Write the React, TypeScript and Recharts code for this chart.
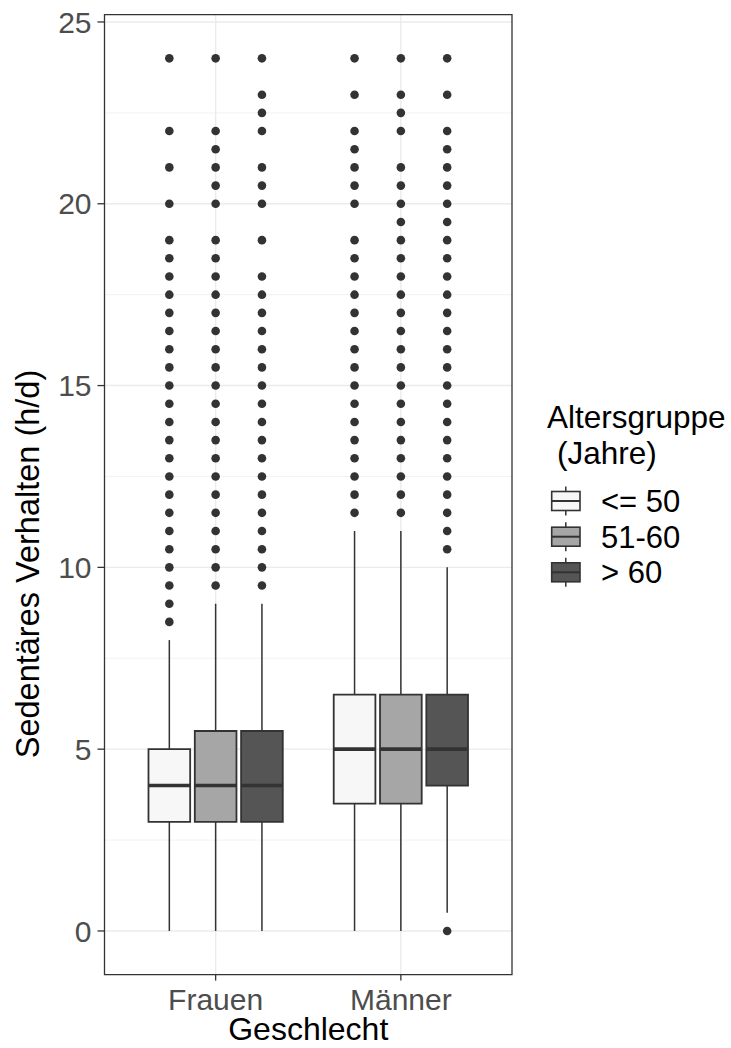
import React from 'react';
import {
  ComposedChart,
  XAxis,
  YAxis,
  Scatter,
  ReferenceArea,
  ReferenceLine,
  CartesianGrid,
  Legend,
  Label,
} from 'recharts';

const categories = ['Frauen', 'Männer'];
const groups = ['<= 50', '51-60', '> 60'];
const groupFills = ['#f7f7f7', '#a6a6a6', '#555555'];
const yTicks = [0, 5, 10, 15, 20, 25];
const yMinorTicks = [2.5, 7.5, 12.5, 17.5, 22.5];
const xTicks = [1, 2];

// [min whisker, q1, median, q3, max whisker] per age group
const frauenStats = [
  [0, 3, 4, 5, 8],
  [0, 3, 4, 5.5, 9],
  [0, 3, 4, 5.5, 9],
];
const maennerStats = [
  [0, 3.5, 5, 6.5, 11],
  [0, 3.5, 5, 6.5, 11],
  [0.5, 4, 5, 6.5, 10],
];

const frauenOutliers = [
  [24, 22, 21, 20, 19, 18.5, 18, 17.5, 17, 16.5, 16, 15.5, 15, 14.5, 14, 13.5, 13, 12.5, 12, 11.5, 11, 10.5, 10, 9.5, 9, 8.5],
  [24, 22, 21.5, 21, 20.5, 20, 19, 18.5, 18, 17.5, 17, 16.5, 16, 15.5, 15, 14.5, 14, 13.5, 13, 12.5, 12, 11.5, 11, 10.5, 10, 9.5],
  [24, 23, 22.5, 22, 21, 20.5, 20, 19, 18, 17.5, 17, 16.5, 16, 15.5, 15, 14.5, 14, 13.5, 13, 12.5, 12, 11.5, 11, 10.5, 10, 9.5],
];
const maennerOutliers = [
  [24, 23, 22, 21.5, 21, 20.5, 20, 19, 18.5, 18, 17.5, 17, 16.5, 16, 15.5, 15, 14.5, 14, 13.5, 13, 12.5, 12, 11.5],
  [24, 23, 22.5, 22, 21, 20.5, 20, 19.5, 19, 18.5, 18, 17.5, 17, 16.5, 16, 15.5, 15, 14.5, 14, 13.5, 13, 12.5, 12, 11.5],
  [24, 23, 22, 21.5, 21, 20.5, 20, 19.5, 19, 18.5, 18, 17.5, 17, 16.5, 16, 15.5, 15, 14.5, 14, 13.5, 13, 12.5, 12, 11.5, 11, 10.5, 0],
];

const statsByCategory = [frauenStats, maennerStats];
const outliersByCategory = [frauenOutliers, maennerOutliers];

const FONT = '"Liberation Sans", Arial, sans-serif';
const INK = '#333333';
const DODGE = 0.25;
const HALF = 0.1125;

type Box = {
  key: string;
  center: number;
  fill: string;
  stats: number[];
  outliers: { x: number; y: number }[];
};

const boxes: Box[] = [];
categories.forEach((cat, ci) => {
  groups.forEach((g, gi) => {
    const center = ci + 1 + (gi - 1) * DODGE;
    boxes.push({
      key: `${cat}-${g}`,
      center,
      fill: groupFills[gi],
      stats: statsByCategory[ci][gi],
      outliers: outliersByCategory[ci][gi].map((y) => ({ x: center, y })),
    });
  });
});

const Dot = (props: any) => {
  const { cx, cy } = props;
  if (cx == null || cy == null) return null;
  return <circle cx={cx} cy={cy} r={4.3} fill={INK} />;
};

const LegendContent = () => {
  const rows = [111, 146.7, 182.3];
  return (
    <svg width={191} height={220} style={{ overflow: 'visible' }}>
      <text x={7} y={38} fontSize={31.5} fontFamily={FONT} fill="#000">
        Altersgruppe
      </text>
      <text x={17} y={74} fontSize={31.5} fontFamily={FONT} fill="#000">
        (Jahre)
      </text>
      {groups.map((g, i) => {
        const cy = rows[i];
        return (
          <g key={g}>
            <line x1={25.8} x2={25.8} y1={cy - 14.5} y2={cy + 14.5} stroke={INK} strokeWidth={1.5} />
            <rect x={11.7} y={cy - 9.5} width={28.3} height={19} fill={groupFills[i]} stroke={INK} strokeWidth={1.6} />
            <line x1={11.7} x2={40} y1={cy} y2={cy} stroke={INK} strokeWidth={2} />
            <text x={61} y={cy + 11} fontSize={31} fontFamily={FONT} fill="#000">
              {g}
            </text>
          </g>
        );
      })}
    </svg>
  );
};

const YTitle = (props: any) => {
  return (
    <text
      x={39}
      y={564}
      transform="rotate(-90 39 564)"
      textAnchor="middle"
      fontSize={32.5}
      fontFamily={FONT}
      fill="#000"
    >
      Sedentäres Verhalten (h/d)
    </text>
  );
};

const XTitle = (props: any) => {
  const vb = props.viewBox || { x: 104.5, y: 974.6, width: 407.5, height: 73.4 };
  return (
    <text
      x={vb.x + vb.width / 2}
      y={vb.y + 65.4}
      textAnchor="middle"
      fontSize={32}
      fontFamily={FONT}
      fill="#000"
    >
      Geschlecht
    </text>
  );
};

export default function App() {
  return (
    <div style={{ position: 'absolute', left: 0, top: 0, background: '#fff' }}>
      <ComposedChart
        width={731}
        height={1048}
        margin={{ top: 14.7, right: 219, bottom: 0, left: 0 }}
      >
        <CartesianGrid
          stroke="#f0f0f0"
          strokeWidth={0.9}
          vertical={false}
          horizontalValues={yMinorTicks}
        />
        <CartesianGrid
          stroke="#ebebeb"
          strokeWidth={1.4}
          horizontalValues={yTicks}
          verticalValues={xTicks}
        />
        <XAxis
          type="number"
          dataKey="x"
          domain={[0.4, 2.6]}
          ticks={xTicks}
          allowDataOverflow
          height={73.4}
          axisLine={false}
          tickSize={6}
          tickMargin={8}
          tickLine={{ stroke: INK, strokeWidth: 1.3 }}
          tick={{ fontSize: 30, fill: '#4d4d4d', fontFamily: FONT }}
          tickFormatter={(v: number) => categories[v - 1] ?? ''}
          interval={0}
        >
          <Label content={<XTitle />} />
        </XAxis>
        <YAxis
          type="number"
          dataKey="y"
          domain={[-1.2, 25.2]}
          ticks={yTicks}
          allowDataOverflow
          width={104.5}
          axisLine={false}
          tickSize={7}
          tickMargin={6}
          tickLine={{ stroke: INK, strokeWidth: 1.3 }}
          tick={{ fontSize: 30, fill: '#4d4d4d', fontFamily: FONT }}
          interval={0}
        >
          <Label content={<YTitle />} />
        </YAxis>

        {boxes.map((b) => (
          <ReferenceLine
            key={`wl-${b.key}`}
            segment={[
              { x: b.center, y: b.stats[0] },
              { x: b.center, y: b.stats[1] },
            ]}
            stroke={INK}
            strokeWidth={1.5}
          />
        ))}
        {boxes.map((b) => (
          <ReferenceLine
            key={`wu-${b.key}`}
            segment={[
              { x: b.center, y: b.stats[3] },
              { x: b.center, y: b.stats[4] },
            ]}
            stroke={INK}
            strokeWidth={1.5}
          />
        ))}
        {boxes.map((b) => (
          <ReferenceArea
            key={`box-${b.key}`}
            x1={b.center - HALF}
            x2={b.center + HALF}
            y1={b.stats[1]}
            y2={b.stats[3]}
            fill={b.fill}
            fillOpacity={1}
            stroke={INK}
            strokeWidth={1.8}
          />
        ))}
        {boxes.map((b) => (
          <ReferenceLine
            key={`med-${b.key}`}
            segment={[
              { x: b.center - HALF, y: b.stats[2] },
              { x: b.center + HALF, y: b.stats[2] },
            ]}
            stroke={INK}
            strokeWidth={3.6}
          />
        ))}
        {boxes.map((b) => (
          <Scatter
            key={`out-${b.key}`}
            data={b.outliers}
            dataKey="y"
            shape={<Dot />}
            isAnimationActive={false}
            legendType="none"
          />
        ))}
        <ReferenceArea
          x1={0.4}
          x2={2.6}
          y1={-1.2}
          y2={25.2}
          fill="none"
          fillOpacity={0}
          stroke={INK}
          strokeWidth={1.3}
        />
        <Legend
          layout="vertical"
          align="center"
          verticalAlign="middle"
          content={<LegendContent />}
          wrapperStyle={{ left: 540, top: 390, width: 191, height: 220 }}
        />
      </ComposedChart>
    </div>
  );
}
